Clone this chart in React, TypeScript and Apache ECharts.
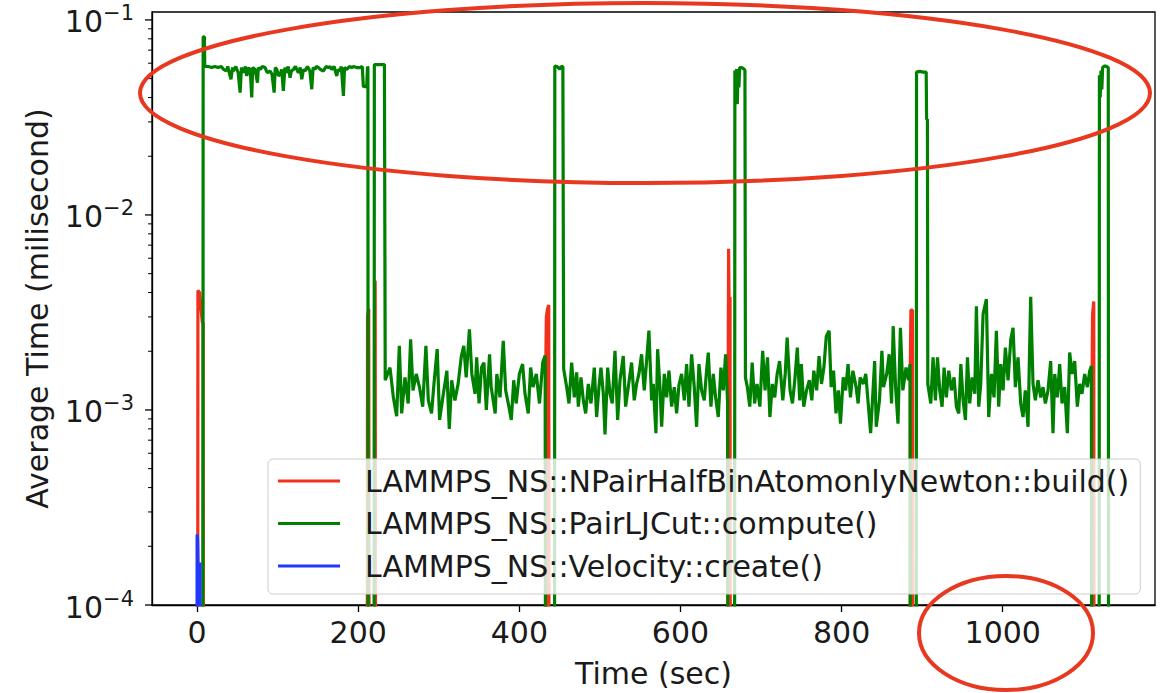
import React, { useEffect, useRef } from 'react';
import * as echarts from 'echarts';

// ---------- names & ticks ----------
const seriesNames = [
  'LAMMPS_NS::NPairHalfBinAtomonlyNewton::build()',
  'LAMMPS_NS::PairLJCut::compute()',
  'LAMMPS_NS::Velocity::create()',
];
const seriesColors = ['#f2301c', '#008000', '#2038ff'];
const xTickValues = [0, 200, 400, 600, 800, 1000];
const xRange = [-56, 1189];
const yRange = [1e-4, 0.1098];
const yMajorTicks = [1e-4, 1e-3, 1e-2, 1e-1];
const yMinorTicks = [
  2e-4, 3e-4, 4e-4, 5e-4, 6e-4, 7e-4, 8e-4, 9e-4,
  2e-3, 3e-3, 4e-3, 5e-3, 6e-3, 7e-3, 8e-3, 9e-3,
  2e-2, 3e-2, 4e-2, 5e-2, 6e-2, 7e-2, 8e-2, 9e-2,
];

// ---------- data: [time (sec), average time (ms)] ; 1e-6 = zero (off the log axis) ----------
const buildData: [number, number][] = [
  [0.5, 1e-6], [1, 4.1e-3], [3, 4.0e-3], [6.5, 2.8e-3], [7.5, 2.8e-3], [8, 1e-6],
  [211, 1e-6], [211.5, 3.0e-3], [213, 3.3e-3], [214, 1e-6], [220.5, 1e-6], [221, 4.6e-3], [222, 1e-6],
  [432.5, 1e-6], [433, 2.0e-3], [433.5, 3.0e-3], [435, 3.3e-3], [436.5, 3.45e-3], [437, 1e-6],
  [658.8, 1e-6], [659.2, 1.5e-3], [659.7, 6.7e-3], [660.5, 3.1e-3], [661.5, 3.8e-3], [662, 1e-6],
  [885, 1e-6], [885.3, 1.75e-3], [886, 3.25e-3], [888, 3.25e-3], [888.5, 1e-6],
  [1110.5, 1e-6], [1111, 1.71e-3], [1111.5, 3.1e-3], [1113, 3.6e-3], [1113.5, 1e-6],
];

const createData: [number, number][] = [
  [-0.3, 1e-6], [0, 2.3e-4], [0.5, 2.2e-4], [1.5, 1.3e-4], [3.5, 1.65e-4], [4, 1e-6],
];

const computeBlock0: [number, number][] = [
  [7, 1e-6], [7.5, 0.082], [9, 0.082], [9.5, 0.0577], [14, 0.0577], [18, 0.057], [22, 0.0577],
  [26, 0.057], [30, 0.0577], [33, 0.0557], [36, 0.0547], [38, 0.0577], [42, 0.0496], [44, 0.057],
  [45, 0.0547], [48, 0.0577], [51, 0.0536], [53.4, 0.0424], [55, 0.057], [57.5, 0.0536], [60, 0.0577],
  [61.6, 0.0516], [64, 0.057], [66, 0.0547], [67.8, 0.04], [69, 0.057], [72, 0.0557], [74.9, 0.0477],
  [76, 0.057], [78.2, 0.0557], [81, 0.0577], [84.4, 0.057], [87, 0.0536], [90.6, 0.0547], [93, 0.0526],
  [95.6, 0.0424], [97, 0.057], [98.9, 0.0557], [101, 0.0516], [103, 0.0526], [105, 0.0557], [107, 0.0433],
  [109, 0.057], [111, 0.0536], [113, 0.0577], [115.4, 0.0506], [117, 0.0547], [119.5, 0.0557], [122, 0.0577],
  [125.7, 0.0536], [128, 0.057], [129.9, 0.0496], [132, 0.0557], [134, 0.0547], [137, 0.0577], [140, 0.0547],
  [142.3, 0.0441], [144, 0.057], [146.4, 0.0557], [148, 0.0577], [150.6, 0.057], [153, 0.0557], [156.8, 0.0547],
  [160, 0.0577], [163, 0.057], [165, 0.0577], [167.1, 0.0557], [170, 0.0577], [173.3, 0.0516], [175, 0.0557],
  [177.5, 0.0547], [179, 0.0577], [181.6, 0.0408], [183, 0.057], [185.7, 0.0557], [189, 0.0577], [192, 0.057],
  [194, 0.0577], [198, 0.057], [202.3, 0.057], [205, 0.0577], [206.4, 0.0452], [208, 0.046], [210.5, 0.0452],
  [211.5, 0.0577], [212, 0.057], [212.5, 1e-6], [219.5, 1e-6], [220, 0.059], [226, 0.059], [232.5, 0.059],
];

const computeNoise1: [number, number][] = [
  [233.5, 1.42e-3], [239.4, 1.65e-3], [243.6, 1.16e-3], [247.7, 0.93e-3], [251, 2.13e-3], [253.9, 0.96e-3],
  [258, 1.47e-3], [262, 1.08e-3], [265, 2.3e-3], [268, 1.26e-3], [272, 1.53e-3], [276, 1.31e-3],
  [280, 1.04e-3], [284, 2.13e-3], [287, 1.12e-3], [291, 0.96e-3], [294, 1.36e-3], [298, 2.05e-3],
  [301, 0.89e-3], [305, 1.16e-3], [310, 1.59e-3], [313, 0.8e-3], [316, 1.42e-3], [320, 1.12e-3],
  [324, 1.36e-3], [328, 1.89e-3], [331, 2.13e-3], [334, 1.47e-3], [338, 2.59e-3], [341, 1.53e-3],
  [345, 1.21e-3], [347, 1.86e-3], [350, 1.08e-3], [353, 1.65e-3], [356, 1.75e-3], [359, 1.0e-3],
  [363, 1.93e-3], [365, 1.31e-3], [370, 0.96e-3], [372, 1.53e-3], [376, 1.16e-3], [380, 2.26e-3],
  [383, 1.26e-3], [387, 1.04e-3], [390, 0.89e-3], [393, 1.42e-3], [396, 1.08e-3], [400, 1.53e-3],
  [404, 1.72e-3], [407, 1.21e-3], [411, 0.96e-3], [414, 1.65e-3], [417, 1.31e-3], [421, 1.53e-3],
  [425, 1.08e-3], [429, 1.75e-3], [432, 1.9e-3],
];

const computeBlock1: [number, number][] = [
  [432.8, 1e-6], [443.5, 1e-6], [444, 0.058], [447, 0.0577], [450, 0.056], [452, 0.0577], [454, 0.0577],
];

const computeNoise2: [number, number][] = [
  [455, 1.62e-3], [458.7, 1.31e-3], [461.6, 1.08e-3], [464.9, 1.75e-3], [468.2, 1.16e-3], [471.1, 1.56e-3],
  [473.2, 1.04e-3], [476.5, 1.47e-3], [479.4, 1.12e-3], [482.3, 0.96e-3], [485.6, 1.36e-3], [488.9, 1.08e-3],
  [493, 1.65e-3], [495.9, 0.92e-3], [498.8, 1.31e-3], [501.3, 1.65e-3], [504.2, 1.21e-3], [506.3, 0.75e-3],
  [509.6, 1.65e-3], [512.5, 1.21e-3], [515.3, 1.08e-3], [518.7, 2.01e-3], [522, 0.89e-3], [524.9, 1.42e-3],
  [529, 1.89e-3], [531.9, 1.04e-3], [535.2, 1.31e-3], [539.3, 1.75e-3], [542.6, 1.12e-3], [545.5, 1.36e-3],
  [548.4, 1.53e-3], [551.7, 1.93e-3], [555, 1.26e-3], [557.9, 1.78e-3], [560.8, 2.55e-3], [564.2, 1.12e-3],
  [566.2, 1.36e-3], [569.5, 0.76e-3], [571.6, 2.05e-3], [574.5, 1.31e-3], [576.6, 0.82e-3], [579.9, 1.53e-3],
  [582.8, 1.16e-3], [585.7, 1.59e-3], [589, 1.04e-3], [592.3, 1.31e-3], [595.2, 0.96e-3], [598.1, 1.34e-3],
  [601.4, 1.53e-3], [604.7, 1.12e-3], [607.6, 1.72e-3], [610.5, 1.04e-3], [613.8, 1.93e-3], [617.1, 1.31e-3],
  [620, 0.82e-3], [622.9, 1.72e-3], [626.2, 1.26e-3], [629.5, 1.12e-3], [632.4, 1.59e-3], [634.5, 1.97e-3],
  [637.8, 1.04e-3], [640.7, 1.53e-3], [643.6, 1.16e-3], [646.9, 0.92e-3], [650.2, 1.65e-3], [653.1, 1.26e-3],
  [656, 1.93e-3], [658.5, 1.08e-3],
];

const computeBlock2: [number, number][] = [
  [659, 1e-6], [667, 1e-6], [667.5, 0.055], [668.5, 0.04], [669.5, 0.056], [670.5, 0.037], [671.5, 0.055],
  [672.5, 0.045], [673.5, 0.057], [676, 0.057], [679, 0.056], [680, 0.055],
];

const computeNoise3: [number, number][] = [
  [680.6, 1.47e-3], [683, 1.31e-3], [686, 1.04e-3], [689, 1.75e-3], [692, 1.08e-3], [695, 1.36e-3],
  [698.5, 1.04e-3], [702, 2.01e-3], [705, 1.26e-3], [708, 1.86e-3], [711, 0.92e-3], [714, 1.36e-3],
  [717, 1.16e-3], [720, 1.53e-3], [723, 1.78e-3], [727, 1.12e-3], [730, 1.53e-3], [732.4, 2.35e-3],
  [736, 1.26e-3], [739, 1.08e-3], [742, 1.44e-3], [745, 2.09e-3], [748, 1.12e-3], [750, 1.72e-3],
  [753, 1.04e-3], [756.4, 1.26e-3], [760, 1.42e-3], [763, 1.12e-3], [765.5, 1.59e-3], [769, 1.26e-3],
  [772, 1.89e-3], [775, 1.36e-3], [778, 1.65e-3], [781, 2.39e-3], [784.5, 2.55e-3], [787, 1.31e-3],
  [790, 1.59e-3], [793, 0.96e-3], [796, 1.26e-3], [798.6, 0.85e-3], [802, 1.47e-3], [805, 1.26e-3],
  [808, 1.72e-3], [811, 1.16e-3], [814, 1.59e-3], [818, 1.31e-3], [820.5, 1.08e-3], [823, 1.47e-3],
  [827, 1.36e-3], [830, 1.53e-3], [833, 1.08e-3], [836, 0.76e-3], [839, 1.26e-3], [841, 1.78e-3],
  [843, 0.82e-3], [847, 1.12e-3], [850, 2.01e-3], [852, 1.31e-3], [856, 1.53e-3], [859, 1.93e-3],
  [862, 1.08e-3], [864, 2.69e-3], [867, 1.31e-3], [870, 0.85e-3], [873, 2.64e-3], [876, 1.26e-3],
  [880, 1.65e-3], [883, 1.42e-3], [885, 1.72e-3],
];

const computeBlock3: [number, number][] = [
  [885.5, 1e-6], [892.5, 1e-6], [893, 0.054], [897, 0.0545], [901, 0.054], [905, 0.054], [905.5, 0.031],
  [906.5, 0.031],
];

const computeNoise4: [number, number][] = [
  [907, 1.36e-3], [910.7, 1.08e-3], [913.5, 1.86e-3], [916.4, 1.12e-3], [919, 1.86e-3], [921.8, 1.26e-3],
  [924.7, 1.04e-3], [927.2, 1.65e-3], [930, 1.16e-3], [933, 1.59e-3], [936.3, 1.26e-3], [939.6, 1.47e-3],
  [942.5, 1.04e-3], [945.4, 0.96e-3], [948, 1.72e-3], [950.8, 1.12e-3], [953.7, 0.89e-3], [956.2, 1.86e-3],
  [959, 1.08e-3], [962, 1.47e-3], [965.3, 1.21e-3], [967.3, 3.4e-3], [970.2, 1.04e-3], [972.7, 1.36e-3],
  [975.6, 3.1e-3], [979.7, 3.7e-3], [982.6, 0.92e-3], [986, 1.53e-3], [989.2, 1.16e-3], [992.1, 2.55e-3],
  [995, 1.04e-3], [997.5, 1.72e-3], [1000.4, 1.26e-3], [1003.3, 2.09e-3], [1006.6, 1.42e-3], [1010, 2.3e-3],
  [1012.8, 2.64e-3], [1015.7, 1.31e-3], [1019, 1.86e-3], [1022.3, 1.08e-3], [1025.2, 0.92e-3], [1028, 1.26e-3],
  [1031.4, 0.82e-3], [1034.7, 3.8e-3], [1037.6, 1.36e-3], [1040.5, 1.12e-3], [1043.8, 1.42e-3], [1047.1, 1.16e-3],
  [1050, 1.31e-3], [1052.9, 1.08e-3], [1056.2, 1.26e-3], [1059.5, 1.78e-3], [1062.4, 0.76e-3], [1064.5, 1.53e-3],
  [1067.8, 1.16e-3], [1070.7, 1.72e-3], [1073.6, 1.08e-3], [1076.9, 1.31e-3], [1080.2, 0.76e-3], [1083.1, 1.97e-3],
  [1086, 1.53e-3], [1089.3, 1.78e-3], [1092.6, 1.04e-3], [1095.5, 1.36e-3], [1098.4, 1.21e-3], [1101.7, 1.53e-3],
  [1105, 1.31e-3], [1108, 1.59e-3], [1110, 1.68e-3],
];

const computeBlock4: [number, number][] = [
  [1111, 1e-6], [1119.5, 1e-6], [1120, 0.052], [1121, 0.04], [1122, 0.055], [1123, 0.044], [1124, 0.057],
  [1126, 0.058], [1128, 0.058], [1131, 0.057], [1131.5, 1e-6],
];

const computeData: [number, number][] = [
  ...computeBlock0, ...computeNoise1, ...computeBlock1, ...computeNoise2, ...computeBlock2,
  ...computeNoise3, ...computeBlock3, ...computeNoise4, ...computeBlock4,
];

// ---------- layout ----------
const FONT = 'DejaVu Sans';
const GRID = { left: 152, top: 12, width: 1003, height: 598 };

export default function App() {
  const ref = useRef<HTMLDivElement>(null);

  useEffect(() => {
    if (!ref.current) return;
    const chart = echarts.init(ref.current, null, { renderer: 'svg' });
    const lineSeries = [buildData, computeData, createData].map((d, i) => ({
      name: seriesNames[i],
      type: 'line',
      data: d,
      symbol: 'none',
      clip: true,
      lineStyle: { color: seriesColors[i], width: 3.2 },
      itemStyle: { color: seriesColors[i] },
      z: 2 + i,
    }));

    chart.setOption({
      animation: false,
      backgroundColor: '#ffffff',
      textStyle: { fontFamily: FONT },
      grid: {
        left: GRID.left, top: GRID.top, width: GRID.width, height: GRID.height,
        show: true, borderColor: '#000', borderWidth: 1.3, containLabel: false,
      },
      xAxis: {
        type: 'value',
        min: xRange[0],
        max: xRange[1],
        name: 'Time (sec)',
        nameLocation: 'middle',
        nameGap: 53,
        nameTextStyle: { fontFamily: FONT, fontSize: 30, color: '#1a1a1a' },
        axisLine: { show: true, onZero: false, lineStyle: { color: '#000', width: 1.3 } },
        axisTick: { show: true, length: 7, customValues: xTickValues, lineStyle: { color: '#000', width: 1.3 } },
        axisLabel: {
          customValues: xTickValues,
          formatter: (v: number) => String(v),
          fontFamily: FONT, fontSize: 30, color: '#1a1a1a', margin: 12,
        },
        splitLine: { show: false },
      },
      yAxis: {
        type: 'log',
        logBase: 10,
        min: yRange[0],
        max: yRange[1],
        name: 'Average Time (milisecond)',
        nameLocation: 'middle',
        nameGap: 100,
        nameTextStyle: { fontFamily: FONT, fontSize: 30, color: '#1a1a1a' },
        axisLine: { show: true, onZero: false, lineStyle: { color: '#000', width: 1.3 } },
        axisTick: { show: false },
        splitLine: { show: false },
        axisLabel: {
          margin: 18,
          formatter: (v: number) => {
            const e = Math.log10(v);
            const r = Math.round(e);
            if (Math.abs(e - r) > 1e-6) return '';
            return `{b|10}{s|${r < 0 ? '\u2212' : ''}${Math.abs(r)}}`;
          },
          rich: {
            b: { fontFamily: FONT, fontSize: 30, color: '#1a1a1a', lineHeight: 34, verticalAlign: 'bottom' },
            s: { fontFamily: FONT, fontSize: 21, color: '#1a1a1a', lineHeight: 20, verticalAlign: 'top' },
          },
        },
      },
      legend: {
        orient: 'vertical',
        left: 268,
        top: 459,
        data: seriesNames.map((n) => ({ name: n, icon: 'rect' })),
        itemWidth: 62,
        itemHeight: 3,
        itemGap: 8.5,
        padding: [5, 11, 11, 10],
        backgroundColor: 'rgba(255,255,255,0.8)',
        borderColor: '#cccccc',
        borderWidth: 1,
        borderRadius: 5,
        selectedMode: false,
        textStyle: { fontFamily: FONT, fontSize: 30, color: '#1a1a1a', lineHeight: 34, padding: [0, 0, 0, 20] },
      },
      series: lineSeries,
    });

    const gfx: any[] = [];
    const x0 = GRID.left;
    yMajorTicks.forEach((v) => {
      const y = chart.convertToPixel({ yAxisIndex: 0 }, v) as number;
      gfx.push({ type: 'line', silent: true, shape: { x1: x0 - 7, y1: y, x2: x0, y2: y }, style: { stroke: '#000', lineWidth: 1.3 } });
    });
    yMinorTicks.forEach((v) => {
      const y = chart.convertToPixel({ yAxisIndex: 0 }, v) as number;
      gfx.push({ type: 'line', silent: true, shape: { x1: x0 - 4, y1: y, x2: x0, y2: y }, style: { stroke: '#000', lineWidth: 1 } });
    });
    gfx.push({
      type: 'ellipse', silent: true, z: 100,
      shape: { cx: 645, cy: 93, rx: 505, ry: 90 },
      style: { fill: 'none', stroke: '#e8381f', lineWidth: 4 },
    });
    gfx.push({
      type: 'ellipse', silent: true, z: 100,
      shape: { cx: 1006, cy: 633, rx: 87, ry: 57 },
      style: { fill: 'none', stroke: '#e8381f', lineWidth: 4 },
    });
    chart.setOption({ graphic: gfx });

    return () => chart.dispose();
  }, []);

  return (
    <div
      ref={ref}
      style={{ position: 'fixed', left: 0, top: 0, width: 1171, height: 693, background: '#fff' }}
    />
  );
}
